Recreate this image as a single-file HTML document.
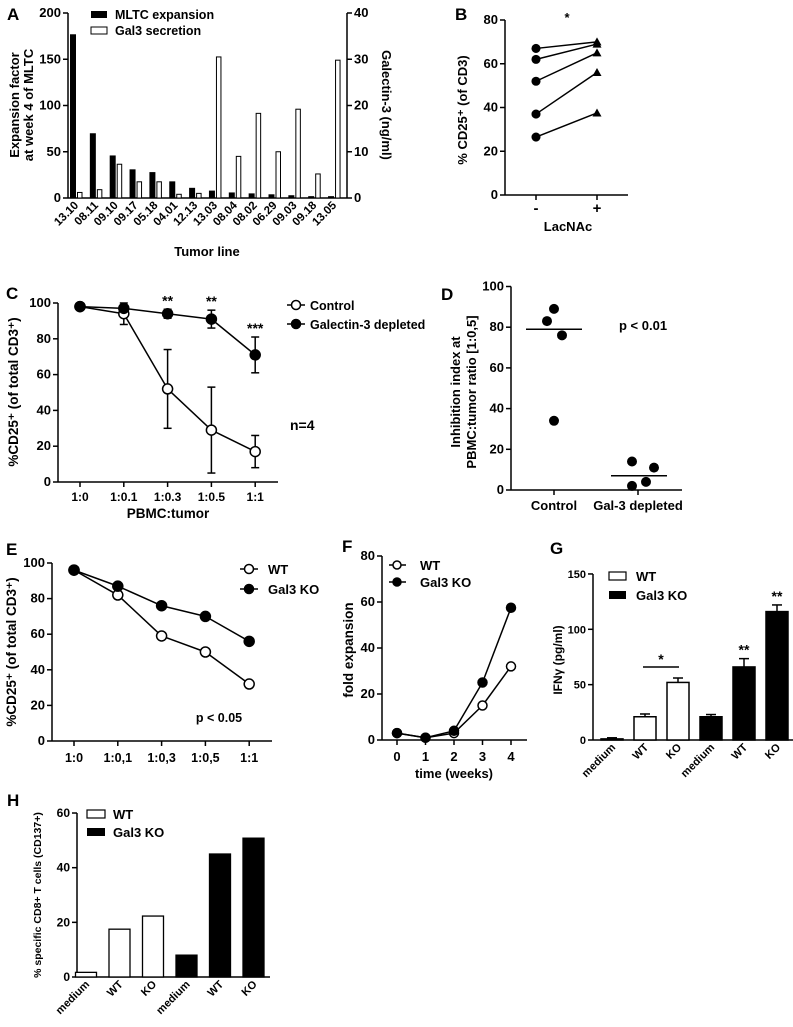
<!DOCTYPE html>
<html><head><meta charset="utf-8"><style>
body{margin:0;background:#fff}
svg{display:block;font-family:"Liberation Sans",Arial,sans-serif}
text{font-weight:bold}
</style></head><body>
<svg id="fig" width="793" height="1027" viewBox="0 0 793 1027" xmlns="http://www.w3.org/2000/svg"></svg>
<script>
// Panel A data
const aCats=["13.10","08.11","09.10","09.17","05.18","04.01","12.13","13.03","08.04","08.02","06.29","09.03","09.18","13.05"];
const aExpansion=[177,70,46,31,28,18,11,8,6,5,4,3,2,2];
const aGal3=[1.2,1.8,7.3,3.5,3.5,0.8,1,30.5,9,18.3,10,19.2,5.2,29.8];
const aLeftTicks=[0,50,100,150,200];
const aRightTicks=[0,10,20,30,40];
// Panel B
const bPre=[67,62,52,37,26.5];
const bPost=[70,69,65,56,37.5];
const bTicks=[0,20,40,60,80];
// Panel C
const cCats=["1:0","1:0.1","1:0.3","1:0.5","1:1"];
const cControl=[98,94,52,29,17];
const cControlErr=[0,6,22,24,9];
const cDepleted=[98,97,94,91,71];
const cDepletedErr=[0,1,2.5,5,10];
const cStars=["","","**","**","***"];
const cTicks=[0,20,40,60,80,100];
// Panel D
const dControl=[83,89,76,34];
const dGal3=[14,11,4,2];
const dControlMed=79, dGal3Med=7;
const dTicks=[0,20,40,60,80,100];
// Panel E
const eCats=["1:0","1:0,1","1:0,3","1:0,5","1:1"];
const eWT=[96,82,59,50,32];
const eKO=[96,87,76,70,56];
const eTicks=[0,20,40,60,80,100];
// Panel F
const fCats=["0","1","2","3","4"];
const fWT=[3,1,3,15,32];
const fKO=[3,1,4,25,57.5];
const fTicks=[0,20,40,60,80];
// Panel G
const gCats=["medium","WT","KO","medium","WT","KO"];
const gVals=[1,21,52,21,66,116];
const gErr=[1,2.5,4,2,7.5,6];
const gTicks=[0,50,100,150];
// Panel H
const hCats=["medium","WT","KO","medium","WT","KO"];
const hVals=[1.7,17.5,22.3,8,45,50.8];
const hTicks=[0,20,40,60];

const NS="http://www.w3.org/2000/svg";
const svg=document.getElementById('fig');
function el(tag,attrs,parent,txt){const e=document.createElementNS(NS,tag);for(const k in attrs)e.setAttribute(k,attrs[k]);if(txt!==undefined)e.textContent=txt;(parent||svg).appendChild(e);return e;}
function grp(name){const g=el('g',{});


return g;}
function lin(g,x1,y1,x2,y2,w){return el('line',{x1,y1,x2,y2,stroke:'#000','stroke-width':w||1.5},g);}
function txt(g,x,y,s,opt){opt=opt||{};const t=el('text',{x,y,'font-size':opt.fs||12,'text-anchor':opt.a||'middle','font-weight':opt.fw||'bold'},g,s);if(opt.rot!==undefined)t.setAttribute('transform',`rotate(${opt.rot} ${x} ${y})`);return t;}
function yAxis(g,x,ticks,sc,right,fs){lin(g,x,sc(ticks[ticks.length-1]),x,sc(ticks[0]));ticks.forEach(v=>{const y=sc(v);if(right){lin(g,x,y,x+5,y);txt(g,x+7,y+4,String(v),{a:'start',fs:fs||12});}else{lin(g,x-5,y,x,y);txt(g,x-7,y+4,String(v),{a:'end',fs:fs||12});}});}
function circle(g,x,y,r,fill){return el('circle',{cx:x,cy:y,r,fill,stroke:'#000','stroke-width':1.5},g);}
function label(x,y,s){const g=grp('panel-label-'+s.toLowerCase());txt(g,x,y,s,{a:'start',fs:17});}

// ===== Panel A =====
(function(){const g=grp('panel-a-chart');
const L=v=>198-v*0.925, R=v=>198-v*4.625;
const X=i=>70+i*19.85;
lin(g,68,198,347,198);
yAxis(g,68,aLeftTicks,L,false,13);yAxis(g,347,aRightTicks,R,true,13);
aExpansion.forEach((v,i)=>{const r=el('rect',{x:X(i),y:L(v),width:6,height:198-L(v),fill:'#000'},g);

});
aGal3.forEach((v,i)=>{const r=el('rect',{x:X(i)+7.5,y:R(v),width:4.5,height:198-R(v),fill:'#fff',stroke:'#000','stroke-width':1},g);

});
aCats.forEach((c,i)=>txt(g,X(i)+9,206,c,{a:'end',fs:11.5,rot:-45}));
txt(g,207,256,'Tumor line',{fs:13});
txt(g,19,105,'Expansion factor',{fs:13,rot:-90});
txt(g,33,105,'at week 4 of MLTC',{fs:13,rot:-90});
txt(g,382,105,'Galectin-3 (ng/ml)',{fs:13,rot:90});
const lg=grp('legend-a');
el('rect',{x:91,y:11,width:16,height:7,fill:'#000'},lg);txt(lg,115,19,'MLTC expansion',{a:'start',fs:12.5});
el('rect',{x:91,y:27,width:16,height:7,fill:'#fff',stroke:'#000'},lg);txt(lg,115,35,'Gal3 secretion',{a:'start',fs:12.5});
})();
label(7,20,'A');

// ===== Panel B =====
(function(){const g=grp('panel-b-chart');
const Y=v=>195-v*2.1875;
lin(g,505,195,628,195);yAxis(g,505,bTicks,Y,false,13);
lin(g,536,195,536,200);lin(g,597,195,597,200);
txt(g,536,213,'-',{fs:15,fw:'normal'});txt(g,597,213,'+',{fs:15,fw:'normal'});
txt(g,568,231,'LacNAc',{fs:13,fw:'normal'});
txt(g,567,22,'*',{fs:13,fw:'normal'});
txt(g,467,110,'% CD25⁺ (of CD3)',{fs:13,rot:-90,fw:'normal'});
bPre.forEach((v,i)=>{lin(g,536,Y(v),597,Y(bPost[i]));
const c=circle(g,536,Y(v),3.8,'#000');


const y=Y(bPost[i]);const t=el('polygon',{points:`${597-4.5},${y+3.5} ${597+4.5},${y+3.5} 597,${y-4.5}`,fill:'#000'},g);

});
})();
label(455,20,'B');

// ===== Panel C =====
(function(){const g=grp('panel-c-chart');
const Y=v=>482-v*1.79, X=i=>80+i*43.8;
lin(g,58,482,278,482);yAxis(g,58,cTicks,Y,false,13);
cCats.forEach((c,i)=>{lin(g,X(i),482,X(i),487);txt(g,X(i),501,c,{fs:12});});
txt(g,168,518,'PBMC:tumor',{fs:13.5});
txt(g,18,392,'%CD25⁺ (of total CD3⁺)',{fs:13.5,rot:-90});
function series(vals,errs,fill,name){
for(let i=1;i<vals.length;i++)lin(g,X(i-1),Y(vals[i-1]),X(i),Y(vals[i]));
vals.forEach((v,i)=>{if(errs[i]>0){lin(g,X(i),Y(v-errs[i]),X(i),Y(v+errs[i]));lin(g,X(i)-4,Y(v-errs[i]),X(i)+4,Y(v-errs[i]));lin(g,X(i)-4,Y(v+errs[i]),X(i)+4,Y(v+errs[i]));}});
vals.forEach((v,i)=>{const c=circle(g,X(i),Y(v),5,fill);

});}
series(cControl,cControlErr,'#fff','point-c-control');
series(cDepleted,cDepletedErr,'#000','point-c-depleted');
cStars.forEach((s,i)=>{if(s)txt(g,X(i),Y(cDepleted[i]+cDepletedErr[i])-4,s,{fs:14});});
const lg=grp('legend-c');
lin(lg,287,305,305,305);circle(lg,296,305,4.5,'#fff');txt(lg,310,310,'Control',{a:'start',fs:12.5});
lin(lg,287,324,305,324);circle(lg,296,324,4.5,'#000');txt(lg,310,329,'Galectin-3 depleted',{a:'start',fs:12.5});
txt(g,290,430,'n=4',{a:'start',fs:14,fw:'normal'});
})();
label(6,299,'C');

// ===== Panel D =====
(function(){const g=grp('panel-d-chart');
const Y=v=>490-v*2.035;
lin(g,511,490,682,490);yAxis(g,511,dTicks,Y,false,13);
lin(g,554,490,554,495);lin(g,638,490,638,495);
txt(g,554,510,'Control',{fs:13});txt(g,638,510,'Gal-3 depleted',{fs:13});
txt(g,460,392,'Inhibition index at',{fs:13,rot:-90,fw:'normal'});
txt(g,476,392,'PBMC:tumor ratio [1:0,5]',{fs:13,rot:-90,fw:'normal'});
const cx=[547,554,562,554], gx=[632,654,646,632];
dControl.forEach((v,i)=>{const c=el('circle',{cx:cx[i],cy:Y(v),r:5,fill:'#000'},g);

});
dGal3.forEach((v,i)=>{const c=el('circle',{cx:gx[i],cy:Y(v),r:5,fill:'#000'},g);

});
lin(g,526,Y(dControlMed),582,Y(dControlMed));lin(g,611,Y(dGal3Med),667,Y(dGal3Med));
txt(g,619,330,'p < 0.01',{a:'start',fs:13});
})();
label(441,300,'D');

// ===== Panel E =====
(function(){const g=grp('panel-e-chart');
const Y=v=>741-v*1.78, X=i=>74+i*43.8;
lin(g,52,741,272,741);yAxis(g,52,eTicks,Y,false,13);
eCats.forEach((c,i)=>{lin(g,X(i),741,X(i),746);txt(g,X(i),762,c,{fs:12.5});});
txt(g,16,652,'%CD25⁺ (of total CD3⁺)',{fs:13.5,rot:-90});
function series(vals,fill,name){for(let i=1;i<vals.length;i++)lin(g,X(i-1),Y(vals[i-1]),X(i),Y(vals[i]));
vals.forEach((v,i)=>{const c=circle(g,X(i),Y(v),5,fill);

});}
series(eWT,'#fff','point-e-wt');series(eKO,'#000','point-e-ko');
txt(g,219,722,'p < 0.05',{fs:12.5});
const lg=grp('legend-e');
lin(lg,240,569,258,569);circle(lg,249,569,4.5,'#fff');txt(lg,268,574,'WT',{a:'start',fs:13});
lin(lg,240,589,258,589);circle(lg,249,589,4.5,'#000');txt(lg,268,594,'Gal3 KO',{a:'start',fs:13});
})();
label(6,555,'E');

// ===== Panel F =====
(function(){const g=grp('panel-f-chart');
const Y=v=>740-v*2.3, X=i=>397+i*28.5;
lin(g,382,740,527,740);yAxis(g,382,fTicks,Y,false,13);
fCats.forEach((c,i)=>{lin(g,X(i),740,X(i),745);txt(g,X(i),761,c,{fs:13});});
txt(g,454,778,'time (weeks)',{fs:13});
txt(g,353,650,'fold expansion',{fs:13.5,rot:-90});
function series(vals,fill,name){for(let i=1;i<vals.length;i++)lin(g,X(i-1),Y(vals[i-1]),X(i),Y(vals[i]));
vals.forEach((v,i)=>{const c=circle(g,X(i),Y(v),4.5,fill);

});}
series(fWT,'#fff','point-f-wt');series(fKO,'#000','point-f-ko');
const lg=grp('legend-f');
lin(lg,389,565,406,565);circle(lg,397,565,4,'#fff');txt(lg,420,570,'WT',{a:'start',fs:13});
lin(lg,389,582,406,582);circle(lg,397,582,4,'#000');txt(lg,420,587,'Gal3 KO',{a:'start',fs:13});
})();
label(342,552,'F');

// ===== Panel G =====
(function(){const g=grp('panel-g-chart');
const Y=v=>740-v*1.107, X=i=>612+i*33;
lin(g,593,740,793,740);yAxis(g,593,gTicks,Y,false,11);
gVals.forEach((v,i)=>{const fill=i<3?'#fff':'#000';
const e=gErr[i];lin(g,X(i),Y(v),X(i),Y(v+e));lin(g,X(i)-5,Y(v+e),X(i)+5,Y(v+e));
const r=el('rect',{x:X(i)-11,y:Y(v),width:22,height:740-Y(v),fill,stroke:'#000','stroke-width':1.5},g);


txt(g,X(i)+4,748,gCats[i],{a:'end',fs:11,rot:-45});});
lin(g,643,667,679,667);txt(g,661,664,'*',{fs:14});
txt(g,X(4),Y(gVals[4]+gErr[4])-4,'**',{fs:14});
txt(g,X(5),Y(gVals[5]+gErr[5])-4,'**',{fs:14});
txt(g,562,660,'IFNγ (pg/ml)',{fs:12,rot:-90});
const lg=grp('legend-g');
el('rect',{x:609,y:572,width:17,height:8,fill:'#fff',stroke:'#000','stroke-width':1.2},lg);txt(lg,636,581,'WT',{a:'start',fs:13});
el('rect',{x:609,y:591,width:17,height:8,fill:'#000'},lg);txt(lg,636,600,'Gal3 KO',{a:'start',fs:13});
})();
label(550,554,'G');

// ===== Panel H =====
(function(){const g=grp('panel-h-chart');
const Y=v=>977-v*2.733, X=i=>86+i*33.5;
lin(g,77,977,270,977);yAxis(g,77,hTicks,Y,false,12);
hVals.forEach((v,i)=>{const fill=i<3?'#fff':'#000';
const r=el('rect',{x:X(i)-10.5,y:Y(v),width:21,height:977-Y(v),fill,stroke:'#000','stroke-width':1.3},g);


txt(g,X(i)+4,985,hCats[i],{a:'end',fs:11,rot:-45});});
txt(g,41,895,'% specific CD8+ T cells (CD137+)',{fs:10.5,rot:-90,fw:'normal'});
const lg=grp('legend-h');
el('rect',{x:87,y:810,width:18,height:8,fill:'#fff',stroke:'#000','stroke-width':1.2},lg);txt(lg,113,819,'WT',{a:'start',fs:13});
el('rect',{x:87,y:828,width:18,height:8,fill:'#000'},lg);txt(lg,113,837,'Gal3 KO',{a:'start',fs:13});
})();
label(7,806,'H');
</script>
</body></html>
